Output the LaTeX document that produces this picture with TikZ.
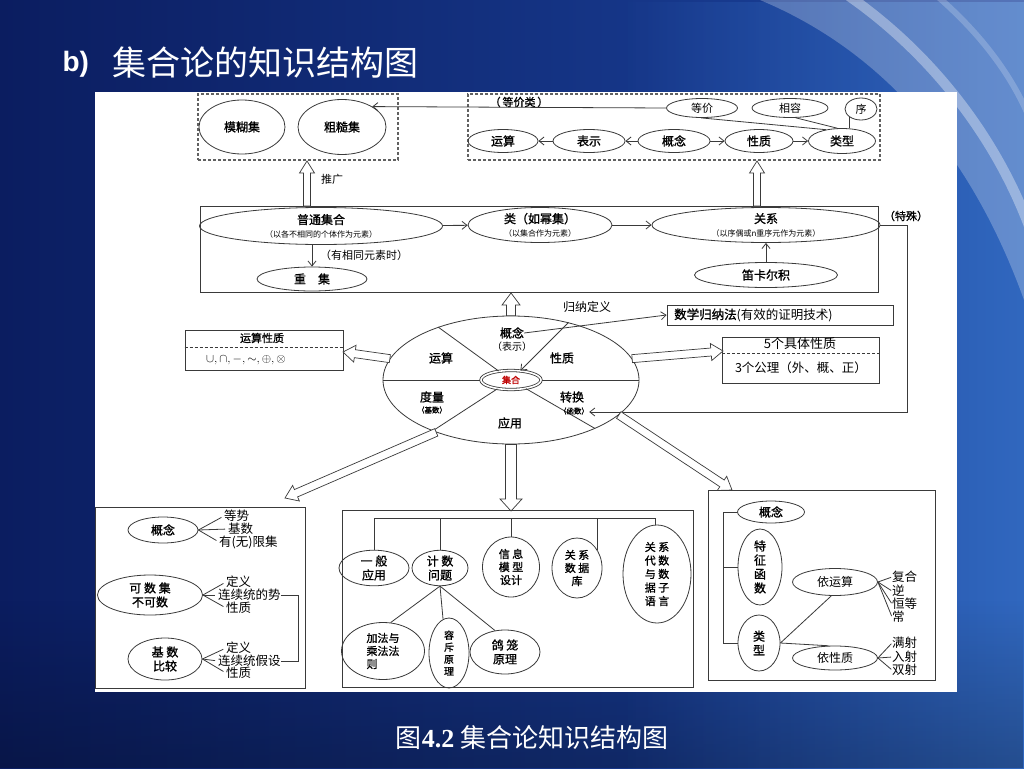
\documentclass[tikz,border=0pt]{standalone}
\usepackage{fontspec}
\newfontfamily\cjk{Noto Sans CJK SC}
\newfontfamily\cjkb[FakeBold=1.2]{Noto Sans CJK SC}
\newfontfamily\latsans{Liberation Sans}
\newfontfamily\latserif{Liberation Serif}
\usetikzlibrary{shapes.geometric,calc,arrows.meta,fadings}
\definecolor{bgdark}{HTML}{0B1D60}
\definecolor{bgmid}{HTML}{1C45A0}
\definecolor{bglight}{HTML}{3F7FD4}
\definecolor{ink}{HTML}{3A3A3A}

\newcommand\harrow[4]{%
  \coordinate (hab) at ($(#4)!12pt!(#3)$);
  \draw[harr] ($(#3)!#1pt!90:(#4)$) -- ($(hab)!#1pt!90:(#4)$) -- ($(hab)!#2pt!90:(#4)$) -- (#4) -- ($(hab)!#2pt!-90:(#4)$) -- ($(hab)!#1pt!-90:(#4)$) -- ($(#3)!#1pt!-90:(#4)$) -- cycle;}

\tikzset{
 ln/.style={draw=ink, line width=0.8pt},
 arr/.style={ln, -{Straight Barb[length=5pt,width=8pt]}},
 lbl/.style={inner sep=0pt, font=\cjkb\fontsize{12}{14}\selectfont, align=center},
 sml/.style={inner sep=0pt, font=\cjk\fontsize{9}{11}\selectfont, align=center},
 tw/.style={inner sep=0pt, anchor=west, font=\cjk\fontsize{12.5}{14}\selectfont},
 e/.style 2 args={ln, ellipse, inner sep=0pt, minimum width=#1pt, minimum height=#2pt, font=\cjkb\fontsize{12}{14}\selectfont, align=center},
 dbox/.style={draw=ink!80, dash pattern=on 3pt off 2pt, line width=1.1pt, inner sep=0pt},
 sbox/.style={ln, inner sep=0pt},
 harr/.style={draw=ink, fill=white, line width=0.7pt},
}

\begin{document}
\begin{tikzpicture}[x=1pt,y=-1pt]
\useasboundingbox (0,0) rectangle (1024,768);
% background
\shade[left color=bgdark, right color=bgmid] (0,0) rectangle (1024,768);
\fill[bglight, opacity=0.6, path fading=west] (620,0) rectangle (1024,768);
\fill[white, opacity=0.25] (760,0) .. controls (880,50) and (970,150) .. (1024,300) -- (1024,0) -- cycle;
\draw[white, opacity=0.35, line width=10pt] (840,-10) .. controls (930,50) and (1000,140) .. (1034,240);
\draw[white, opacity=0.2, line width=6pt] (930,-10) .. controls (990,40) and (1020,90) .. (1034,130);
\fill[black, opacity=0.25, path fading=north] (0,600) rectangle (1024,768);

% title and caption
\node[anchor=west, text=white, font=\latsans\bfseries\fontsize{28}{30}\selectfont] (tb) at (59,64) {b)};
\node[anchor=west, text=white, font=\cjk\fontsize{34}{38}\selectfont] (tt) at (109,63) {集合论的知识结构图};
\node[text=white, font=\cjk\fontsize{26}{30}\selectfont] (cap) at (532,738) {图{\latserif\bfseries 4.2}\hspace{6pt}集合论知识结构图};

% white panel
\fill[white] (95,92) rectangle (957,692);

% ---------- top left ----------
\node[dbox, minimum width=200pt, minimum height=66pt] (tl) at (298,127) {};
\node[e={86}{54}] (mh) at (242,127) {模糊集};
\node[e={88}{55}] (cc) at (342,127) {粗糙集};

% ---------- top right ----------
\node[dbox, minimum width=412pt, minimum height=66pt] (tr) at (674,127) {};
\node[e={71}{19}, font=\cjk\fontsize{11}{12}\selectfont] (dj) at (702,108) {等价};
\node[e={76}{19}, font=\cjk\fontsize{11}{12}\selectfont] (xr) at (790,108) {相容};
\node[e={32}{22}, font=\cjk\fontsize{11}{12}\selectfont] (xu) at (861,109) {序};
\node[e={70}{23}] (ys) at (503,141) {运算};
\node[e={72}{23}] (bs) at (589,141) {表示};
\node[e={72}{23}] (gn) at (674,141) {概念};
\node[e={68}{23}] (xz) at (759,141) {性质};
\node[e={67}{25}] (lx) at (842,141) {类型};
\node[sml, font=\cjkb\fontsize{11}{12}\selectfont] (djl) at (519,102) {（\,等价类\,）};
\draw[arr] (dj.west) -- (cc.34);
\draw[arr] (bs) -- (ys);
\draw[arr] (gn) -- (bs);
\draw[arr] (gn) -- (xz);
\draw[arr] (xz) -- (lx);
\draw[ln] (dj.-95) -- (lx.145);
\draw[ln] (xr.-60) -- (lx.110);
\draw[ln] (xu.south west) -- (xu.south west |- lx.north);

% ---------- middle box ----------
\node[sbox, minimum width=678pt, minimum height=86pt] (mb) at (539,249) {};
\node[e={243}{37}] (pt) at (321,226) {普通集合\\[-1pt]{\cjk\fontsize{8}{9}\selectfont（以各不相同的个体作为元素）}};
\node[e={144}{35}] (lei) at (540,225) {类（如幂集）\\[-1pt]{\cjk\fontsize{8}{9}\selectfont（以集合作为元素）}};
\node[e={228}{35}] (gx) at (766,225) {关系\\[-1pt]{\cjk\fontsize{8}{9}\selectfont（以序偶或n重序元作为元素）}};
\node[e={110}{24}] (cj) at (312,279) {重\quad 集};
\node[e={143}{25}] (dk) at (766,275) {笛卡尔积};
\draw[arr] (pt) -- (lei);
\draw[arr] (lei) -- (gx);
\draw[arr] (cj.north |- pt.south) -- (cj.north);
\node[sml, font=\cjk\fontsize{11}{12}\selectfont, anchor=west] (yxt) at (320,255) {（有相同元素时）};
\draw[arr] (dk) -- (gx);
\node[lbl, font=\cjkb\fontsize{11}{12}\selectfont] (ts) at (906,216) {（特殊）};

% hollow arrows top
\coordinate (u1s) at (307,206); \coordinate (u1e) at (307,161);
\coordinate (u2s) at (757,206); \coordinate (u2e) at (757,161);
\harrow{3.5}{7.5}{u1s}{u1e}
\harrow{3.5}{7.5}{u2s}{u2e}
\node[sml, font=\cjk\fontsize{11}{12}\selectfont] (tg) at (332,179) {推广};

% ---------- central circle ----------
\node[ln, ellipse, minimum width=256pt, minimum height=128pt, inner sep=0pt] (cir) at (511,380) {};
\draw[ln] (cir.west) -- (cir.east);
\node[ln, ellipse, fill=white, double=white, double distance=1.6pt, minimum width=60pt, minimum height=19pt, inner sep=0pt, text=red!75!black, font=\cjkb\fontsize{9}{10}\selectfont] (jh) at (511,380) {集合};
\draw[ln] (cir.144) -- (jh.144);
\draw[ln] (cir.213) -- (jh.213);
\draw[ln] (cir.330) -- (jh.330);
\draw[arr] (cir.45) -- (jh.45);
\node[lbl] (c1) at (512,333) {概念};
\node[sml, font=\cjk\fontsize{10}{11}\selectfont] (c1b) at (512,347) {（表示）};
\node[lbl] (c2) at (441,358) {运算};
\node[lbl] (c3) at (562,358) {性质};
\node[lbl] (c4) at (432,397) {度量};
\node[sml, font=\cjkb\fontsize{7.5}{8}\selectfont] (c4b) at (432,410) {（基数）};
\node[lbl] (c5) at (572,397) {转换};
\node[sml, font=\cjkb\fontsize{7.5}{8}\selectfont] (hs) at (574,411) {（函数）};
\node[lbl] (c6) at (510,423) {应用};

% special line to function
\coordinate (tsc) at (907,412);
\draw[arr] (gx.east) -| (tsc) -- (tsc -| hs.east);

% induction box
\node[sbox, minimum width=226pt, minimum height=20pt] (sx) at (780,315) {};
\node[inner sep=0pt, anchor=west, font=\cjk\fontsize{12.5}{13}\selectfont] (sxt) at (674,315) {{\cjkb 数学归纳法}(有效的证明技术)};
\draw[arr] (c1.east) -- (sx.west);
\node[sml, font=\cjk\fontsize{12}{13}\selectfont] (gnd) at (587,307) {归纳定义};

% operation property box
\node[sbox, minimum width=158pt, minimum height=40pt] (ysxz) at (264,350) {};
\draw[ln, dash pattern=on 3pt off 2pt] ($(ysxz.west)+(0,-3)$) -- ($(ysxz.east)+(0,-3)$);
\node[lbl, font=\cjkb\fontsize{11}{12}\selectfont] (ysxt) at (262,338) {运算性质};
\node[inner sep=0pt, font=\fontsize{13}{14}\selectfont] (ysxs) at (246,360) {$\cup,\cap,-,\sim,\oplus,\otimes$};

% five property box
\node[sbox, minimum width=157pt, minimum height=46pt] (wg) at (801,360) {};
\draw[ln, dash pattern=on 3pt off 2pt] ($(wg.west)+(0,-7)$) -- ($(wg.east)+(0,-7)$);
\node[sml, font=\cjk\fontsize{13}{14}\selectfont] (wg1) at (800,344) {5个具体性质};
\node[sml, font=\cjk\fontsize{12.5}{14}\selectfont] (wg2) at (801,368) {3个公理（外、概、正）};

% hollow arrows from circle
\coordinate (h1e) at (343,352);
\coordinate (h2e) at (723,351);
\coordinate (h3e) at (285,498);
\coordinate (h4e) at (511,511);
\coordinate (h5e) at (732,490);
\harrow{4}{8.5}{cir.170}{h1e}
\harrow{4}{8.5}{cir.10}{h2e}
\harrow{4}{8.5}{cir.215}{h3e}
\harrow{5.5}{11}{cir.south}{h4e}
\harrow{4}{8.5}{cir.-18}{h5e}
\coordinate (h6e) at (511,293);
\harrow{4.5}{9}{cir.north}{h6e}

% ---------- bottom left box ----------
\node[sbox, minimum width=210pt, minimum height=181pt] (blb) at (200,597.5) {};
\node[e={70}{26}] (bg1) at (163,530) {概念};
\node[e={105}{40}] (bg2) at (150,595) {可\ 数\ 集\\不可数};
\node[e={74}{42}] (bg3) at (165,659) {基\ 数\\比较};
\node[tw] (t11) at (224,516) {等势};
\node[tw] (t12) at (228,529) {基数};
\node[tw] (t13) at (219,542) {有(无)限集};
\node[tw] (t21) at (226,582) {定义};
\node[tw] (t22) at (218,595) {连续统的势};
\node[tw] (t23) at (226,608) {性质};
\node[tw] (t31) at (226,648) {定义};
\node[tw] (t32) at (218,661) {连续统假设};
\node[tw] (t33) at (226,673) {性质};
\foreach \a/\b in {bg1/t11,bg1/t12,bg1/t13,bg2/t21,bg2/t22,bg2/t23,bg3/t31,bg3/t32,bg3/t33}
  \draw[ln, shorten >=3pt] (\a.east) -- (\b.west);
\coordinate (brk) at (298,595);
\draw[ln] (t22.east) -- (brk) |- (t32.east);

% ---------- bottom middle box ----------
\node[sbox, minimum width=351pt, minimum height=177pt] (bmb) at (517.5,598.5) {};
\node[e={70}{34}] (yb) at (374,568) {一\ 般\\应用};
\node[e={56}{34}] (js) at (440,568) {计\ 数\\问题};
\node[e={57}{60}, font=\cjkb\fontsize{11}{13}\selectfont] (xx) at (511,567) {信\ 息\\模\ 型\\设计};
\node[e={50}{60}, font=\cjkb\fontsize{11}{13}\selectfont] (gs) at (577,568) {关\ 系\\数\ 据\\库};
\node[e={68}{98}, font=\cjkb\fontsize{11}{13.5}\selectfont] (gd) at (657,574) {关\ 系\\代\ 数\\与\ 数\\据\ 子\\语\ 言};
\node[e={83}{57}, align=left, font=\cjkb\fontsize{11}{13}\selectfont] (jf) at (383,651) {加法与\\乘法法\\则};
\node[e={40}{70}, font=\cjkb\fontsize{10}{12}\selectfont] (rc) at (449,653) {容\\斥\\原\\理};
\node[e={70}{44}] (gl) at (505,652) {鸽\ 笼\\原理};
\coordinate (busL) at (374,518);
\coordinate (busR) at (655,518);
\draw[ln] (busL) -- (busR);
\draw[ln] (busL) -- (yb.north);
\draw[ln] (js.north |- busL) -- (js.north);
\draw[ln] (xx.north |- busL) -- (xx.north);
\draw[ln] (gs.42 |- busL) -- (gs.42);
\draw[ln] (busR) -- (busR |- gd.north);
\draw[ln] (js.south) -- (jf.75);
\draw[ln] (js.south) -- (rc.100);
\draw[ln] (js.south) -- (gl.115);

% ---------- bottom right box ----------
\node[sbox, minimum width=227pt, minimum height=190pt] (brb) at (821.5,585) {};
\node[e={67}{22}] (bg4) at (771,512) {概念};
\node[e={44}{76}] (tz) at (760,567) {特\\征\\函\\数};
\node[e={42}{56}] (lx2) at (759,643) {类\\型};
\node[e={85}{27}, font=\cjk\fontsize{12}{13}\selectfont] (ysb) at (835,582) {依运算};
\node[e={85}{24}, font=\cjk\fontsize{12}{13}\selectfont] (yxz) at (835,658) {依性质};
\coordinate (brk2) at (723,512);
\draw[ln] (bg4.west) -- (brk2) |- (lx2.west);
\draw[ln] (tz.west) -- (tz.west -| brk2);
\draw[ln] (lx2.east) -- (ysb.255);
\draw[ln] (lx2.east) -- (yxz.118);
\node[tw] (r1) at (892,577) {复合};
\node[tw] (r2) at (892,591) {逆};
\node[tw] (r3) at (892,604) {恒等};
\node[tw] (r4) at (892,617) {常};
\node[tw] (r5) at (892,643) {满射};
\node[tw] (r6) at (892,657) {入射};
\node[tw] (r7) at (892,670) {双射};
\foreach \b in {r1,r2,r3,r4}
  \draw[ln, shorten >=1pt] (ysb.east) -- (\b.west);
\foreach \b in {r5,r6,r7}
  \draw[ln, shorten >=1pt] (yxz.east) -- (\b.west);
\end{tikzpicture}
\end{document}
